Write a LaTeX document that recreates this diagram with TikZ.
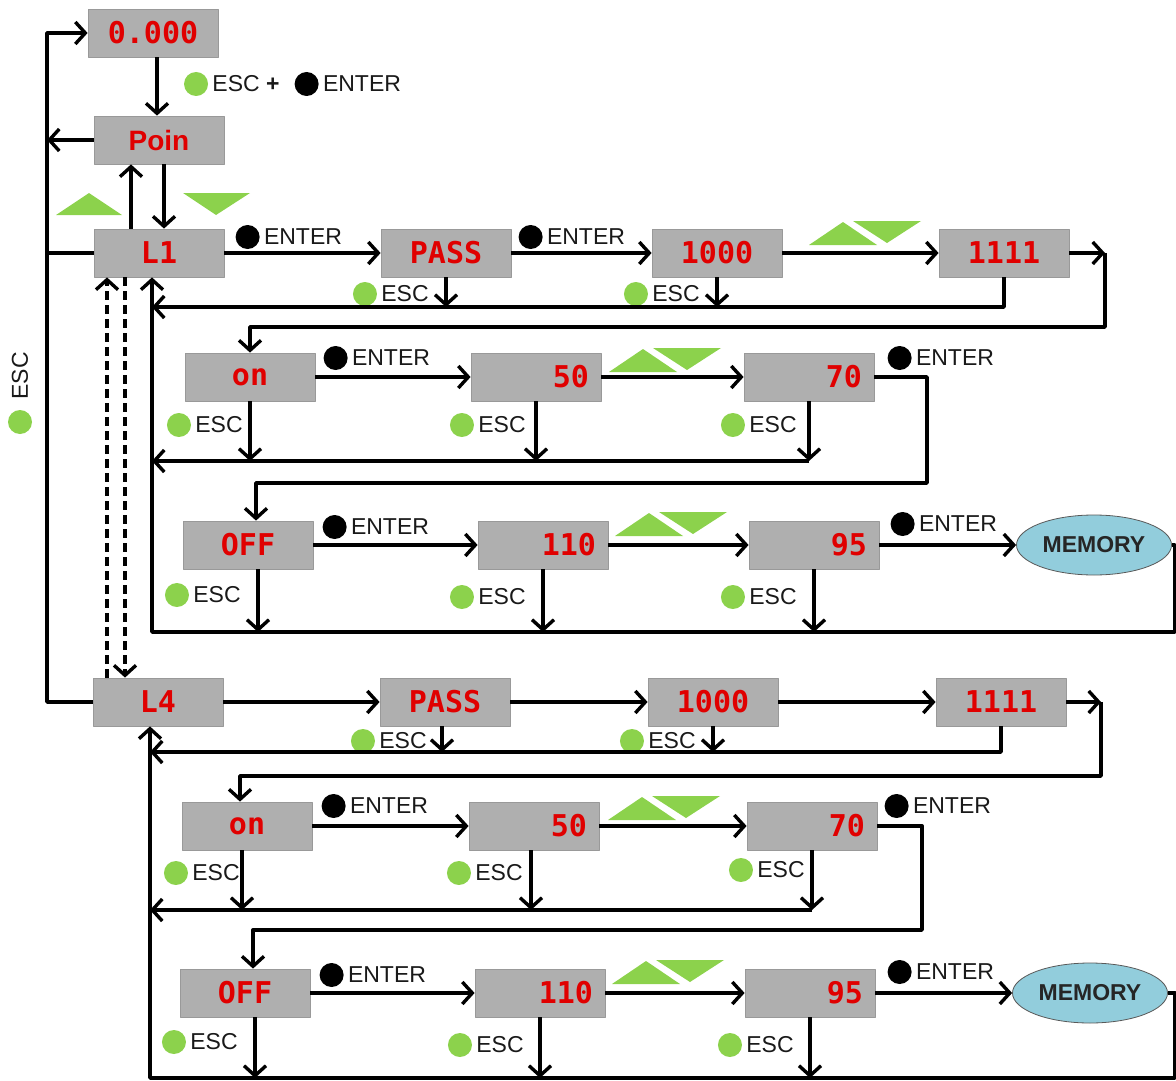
\documentclass[tikz,border=0pt]{standalone}
\usepackage{fontspec}
\setmainfont{Liberation Sans}
\newfontfamily\segfont{DejaVu Sans Mono}
\usetikzlibrary{arrows.meta,shapes.geometric,positioning}
\definecolor{boxgray}{HTML}{AFAFAF}
\definecolor{segred}{HTML}{E00000}
\definecolor{keygreen}{HTML}{8CD24C}
\definecolor{memblue}{HTML}{92CDDC}

\tikzset{
  keys/.pic={
    \fill[keygreen] (-56,12) -- (12,12) -- (-22,-11) -- cycle;
    \fill[keygreen] (-12,-12) -- (56,-12) -- (22,10) -- cycle;
  }
}

\begin{document}
\begin{tikzpicture}[
            x=1pt, y=-1pt,
            line width=3.4pt, line join=round,
            >={Straight Barb[length=10pt,width=22pt]},
            box/.style={draw=gray!80, line width=0.8pt, fill=boxgray, minimum width=130pt, minimum height=48pt,
                        inner sep=0pt, text=segred, font=\segfont\bfseries\fontsize{30}{30}\selectfont},
            rnum/.style={box, text width=106pt, align=right},
            mem/.style={ellipse, draw=gray!70!black, line width=0.8pt, fill=memblue, minimum width=155pt,
                        minimum height=60pt, inner sep=0pt, text=black!85, font=\bfseries\fontsize{23}{23}\selectfont},
            key/.style={inner sep=1pt, text=black!90, font=\fontsize{23}{23}\selectfont},
            dot/.style={circle, inner sep=0pt, minimum size=24pt},
            esc/.style={key, label distance=3pt, label={[dot, fill=keygreen]left:{}}},
            enter/.style={key, label distance=3pt, label={[dot, fill=black]left:{}}},
            backlink/.style={dash pattern=on 9pt off 5pt},
        ]
            \useasboundingbox (0,0) rectangle (1176,1081);

            % L1 menu
            \node[box] (zero) at (153,33) {0.000};
            \node[box, font=\bfseries\fontsize{28}{28}\selectfont] (poin) at (159,140) {Poin};
            \node[box] (L1) at (159,253) {L1};
            \node[box] (pass1) at (446,253) {PASS};
            \node[box] (thou1) at (717,253) {1000};
            \node[box] (code1) at (1004,253) {1111};
            \node[box] (on1) at (250,377) {on};
            \node[rnum] (onlo1) at (536,377) {50};
            \node[rnum] (onhi1) at (809,377) {70};
            \node[box] (off1) at (248,545) {OFF};
            \node[rnum] (offlo1) at (543,545) {110};
            \node[rnum] (offhi1) at (814,545) {95};
            \node[mem] (mem1) at (1094,545) {MEMORY};

            % L4 menu
            \node[box] (L4) at (158,702) {L4};
            \node[box] (pass4) at (445,702) {PASS};
            \node[box] (thou4) at (713,702) {1000};
            \node[box] (code4) at (1001,702) {1111};
            \node[box] (on4) at (247,826) {on};
            \node[rnum] (onlo4) at (534,826) {50};
            \node[rnum] (onhi4) at (812,826) {70};
            \node[box] (off4) at (245,993) {OFF};
            \node[rnum] (offlo4) at (540,993) {110};
            \node[rnum] (offhi4) at (810,993) {95};
            \node[mem] (mem4) at (1090,993) {MEMORY};

            \coordinate (rail) at (47,0);
            \coordinate (dl) at (107,0);
            \coordinate (dr) at (125,0);
            \coordinate (esc1) at (152,307);
            \coordinate (esc2) at (152,461);
            \coordinate (back1) at (152,632);
            \coordinate (turn1) at (1105,327);
            \coordinate (turn2) at (927,483);
            \coordinate (rim1) at (1175,632);
            \coordinate (esc3) at (150,752);
            \coordinate (esc4) at (150,910);
            \coordinate (back4) at (150,1078);
            \coordinate (turn3) at (1101,776);
            \coordinate (turn4) at (922,930);
            \coordinate (rim4) at (1175,1078);

            % keys
            \node[esc] (kesc0) at (246,84) {ESC {\bfseries +}};
            \node[enter] (kent0) at (362,84) {ENTER};
            \node[key, rotate=90] (kescv) at (20,376) {ESC};
            \node[dot, fill=keygreen] (kdotv) at (20,422) {};
            \fill[keygreen] (56,215) -- (122,215) -- (89,193) -- cycle;
            \fill[keygreen] (183,193) -- (250,193) -- (216,215) -- cycle;

            \node[enter] (kent1) at (303,237) {ENTER};
            \node[enter] (kent2) at (586,237) {ENTER};
            \pic at (865,233) {keys};
            \node[esc] (kesc1) at (405,294) {ESC};
            \node[esc] (kesc2) at (676,294) {ESC};
            \node[enter] (kent3) at (391,358) {ENTER};
            \pic at (665,360) {keys};
            \node[enter] (kent4) at (955,358) {ENTER};
            \node[esc] (kesc3) at (219,425) {ESC};
            \node[esc] (kesc4) at (502,425) {ESC};
            \node[esc] (kesc5) at (773,425) {ESC};
            \node[enter] (kent5) at (390,527) {ENTER};
            \pic at (671,524) {keys};
            \node[enter] (kent6) at (958,524) {ENTER};
            \node[esc] (kesc6) at (217,595) {ESC};
            \node[esc] (kesc7) at (502,597) {ESC};
            \node[esc] (kesc8) at (773,597) {ESC};

            \node[esc] (kesc9) at (403,741) {ESC};
            \node[esc] (kesc10) at (672,741) {ESC};
            \node[enter] (kent7) at (389,806) {ENTER};
            \pic at (664,808) {keys};
            \node[enter] (kent8) at (952,806) {ENTER};
            \node[esc] (kesc11) at (216,873) {ESC};
            \node[esc] (kesc12) at (499,873) {ESC};
            \node[esc] (kesc13) at (781,870) {ESC};
            \node[enter] (kent9) at (387,975) {ENTER};
            \pic at (668,972) {keys};
            \node[enter] (kent10) at (955,972) {ENTER};
            \node[esc] (kesc14) at (214,1042) {ESC};
            \node[esc] (kesc15) at (500,1045) {ESC};
            \node[esc] (kesc16) at (770,1045) {ESC};

            % left side
            \draw[->] (L4.west) -- (L4.west -| rail) |- (zero.west);
            \draw[->] (poin.west) -- (poin.west -| rail);
            \draw (L1.west) -- (L1.west -| rail);
            \draw[->] ([xshift=4pt]zero.south) -- ([xshift=4pt]zero.south |- poin.north);
            \draw[->] ([xshift=-28pt]L1.north) -- ([xshift=-28pt]L1.north |- poin.south);
            \draw[->] ([xshift=5pt]L1.north |- poin.south) -- ([xshift=5pt]L1.north);
            \draw[->, backlink] (L4.north -| dl) -- (L1.south -| dl);
            \draw[->, backlink] (L1.south -| dr) -- (L4.north -| dr);

            % L1 rows
            \draw[->] (L1) -- (pass1);
            \draw[->] (pass1) -- (thou1);
            \draw[->] (thou1) -- (code1);
            \draw[->] (code1.east) -- (code1.east -| turn1);
            \draw[->] (code1.east -| turn1) -- (turn1) -| (on1.north);
            \draw[->] (code1.south) |- (esc1);
            \draw[->] (pass1.south) -- (pass1.south |- esc1);
            \draw[->] (thou1.south) -- (thou1.south |- esc1);

            \draw[->] (on1) -- (onlo1);
            \draw[->] (onlo1) -- (onhi1);
            \draw[->] (onhi1.east) -| (turn2) -| ([xshift=8pt]off1.north);
            \draw[->] (on1.south) -- (on1.south |- esc2);
            \draw[->] (onlo1.south) -- (onlo1.south |- esc2);
            \draw[->] (onhi1.south) -- (onhi1.south |- esc2);
            \draw[->] (onhi1.south |- esc2) -- (esc2);

            \draw[->] (off1) -- (offlo1);
            \draw[->] (offlo1) -- (offhi1);
            \draw[->] (offhi1) -- (mem1);
            \draw[->] ([xshift=10pt]off1.south) -- ([xshift=10pt]off1.south |- back1);
            \draw[->] (offlo1.south) -- (offlo1.south |- back1);
            \draw[->] (offhi1.south) -- (offhi1.south |- back1);
            \draw[->] (mem1.east) -| (rim1) -- (back1) -- (back1 |- L1.south);

            % L4 rows
            \draw[->] (L4) -- (pass4);
            \draw[->] (pass4) -- (thou4);
            \draw[->] (thou4) -- (code4);
            \draw[->] (code4.east) -- (code4.east -| turn3);
            \draw[->] (code4.east -| turn3) -- (turn3) -| ([xshift=-7pt]on4.north);
            \draw[->] (code4.south) |- (esc3);
            \draw[->] ([xshift=-3pt]pass4.south) -- ([xshift=-3pt]pass4.south |- esc3);
            \draw[->] (thou4.south) -- (thou4.south |- esc3);

            \draw[->] (on4) -- (onlo4);
            \draw[->] (onlo4) -- (onhi4);
            \draw[->] (onhi4.east) -| (turn4) -| ([xshift=8pt]off4.north);
            \draw[->] ([xshift=-5pt]on4.south) -- ([xshift=-5pt]on4.south |- esc4);
            \draw[->] ([xshift=-3pt]onlo4.south) -- ([xshift=-3pt]onlo4.south |- esc4);
            \draw[->] (onhi4.south) -- (onhi4.south |- esc4);
            \draw[->] (onhi4.south |- esc4) -- (esc4);

            \draw[->] (off4) -- (offlo4);
            \draw[->] (offlo4) -- (offhi4);
            \draw[->] (offhi4) -- (mem4);
            \draw[->] ([xshift=10pt]off4.south) -- ([xshift=10pt]off4.south |- back4);
            \draw[->] (offlo4.south) -- (offlo4.south |- back4);
            \draw[->] (offhi4.south) -- (offhi4.south |- back4);
            \draw[->] (mem4.east) -| (rim4) -- (back4) -- (back4 |- L4.south);
        \end{tikzpicture}
\end{document}
